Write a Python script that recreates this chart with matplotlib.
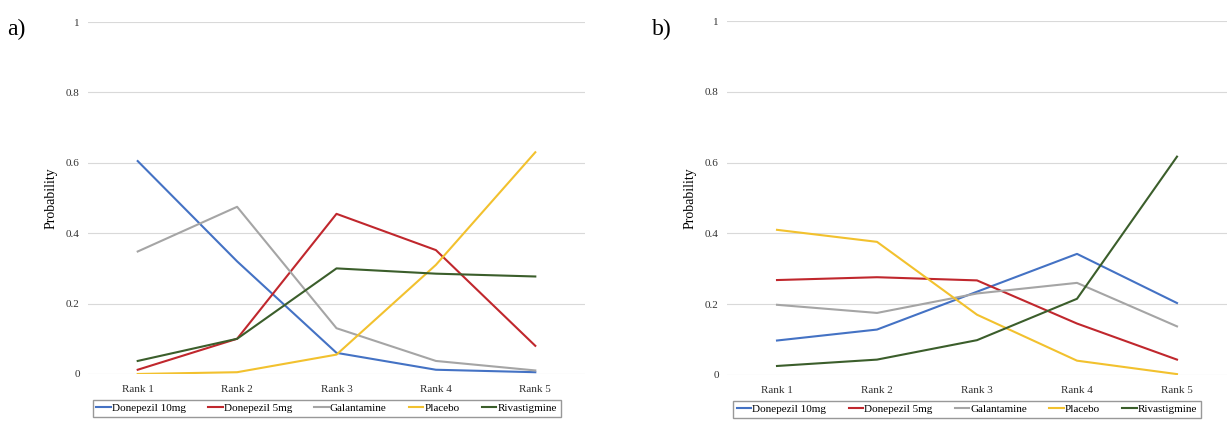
import numpy as np
import matplotlib
matplotlib.use('Agg')
import matplotlib.pyplot as plt

plt.rcParams['font.family'] = 'Liberation Serif'

# data
ranks = ['Rank 1', 'Rank 2', 'Rank 3', 'Rank 4', 'Rank 5']
drugs = ['Donepezil 10mg', 'Donepezil 5mg', 'Galantamine', 'Placebo', 'Rivastigmine']
colors = ['#4472C4', '#C0272D', '#A5A5A5', '#F2C12E', '#3B5E2B']

a_donepezil10 = [0.605, 0.32, 0.06, 0.012, 0.005]
a_donepezil5 = [0.012, 0.10, 0.455, 0.352, 0.08]
a_galantamine = [0.348, 0.475, 0.13, 0.037, 0.01]
a_placebo = [0.0, 0.005, 0.055, 0.31, 0.63]
a_rivastigmine = [0.037, 0.10, 0.30, 0.285, 0.277]

b_donepezil10 = [0.097, 0.128, 0.235, 0.342, 0.203]
b_donepezil5 = [0.268, 0.276, 0.267, 0.145, 0.043]
b_galantamine = [0.198, 0.175, 0.23, 0.26, 0.137]
b_placebo = [0.41, 0.376, 0.17, 0.04, 0.002]
b_rivastigmine = [0.025, 0.043, 0.098, 0.215, 0.617]

panel_a = [a_donepezil10, a_donepezil5, a_galantamine, a_placebo, a_rivastigmine]
panel_b = [b_donepezil10, b_donepezil5, b_galantamine, b_placebo, b_rivastigmine]

fig = plt.figure(figsize=(12.27, 4.24), dpi=100)
ax0 = fig.add_axes([88/1227, 0.118, 497/1227, 0.830])
ax1 = fig.add_axes([727/1227, 0.116, 500/1227, 0.834])

x = np.arange(len(ranks))
for ax, series, tag, lx in [(ax0, panel_a, 'a)', 0.006), (ax1, panel_b, 'b)', 0.531)]:
    for vals, name, c in zip(series, drugs, colors):
        ax.plot(x, vals, color=c, lw=1.5, label=name)
    ax.set_xlim(-0.5, 4.5)
    ax.set_ylim(0, 1)
    ax.set_yticks([0, 0.2, 0.4, 0.6, 0.8, 1])
    ax.set_yticklabels(['0', '0.2', '0.4', '0.6', '0.8', '1'])
    ax.set_xticks(x)
    ax.set_xticklabels(ranks)
    ax.tick_params(axis='y', length=0, labelsize=8, pad=6, labelcolor='#333333')
    ax.tick_params(axis='x', length=0, labelsize=8, pad=8, labelcolor='#333333')
    ax.grid(axis='y', color='#D9D9D9', lw=0.8)
    ax.set_axisbelow(True)
    for s in ax.spines.values():
        s.set_visible(False)
    ax.set_ylabel('Probability', fontsize=10, labelpad=6)
    leg = ax.legend(loc='center', bbox_to_anchor=(0.48, -0.098), ncol=5, fontsize=8,
                    frameon=True, fancybox=False, handlelength=1.3, handletextpad=0.1,
                    columnspacing=2.0, borderpad=0.35)
    leg.get_frame().set_edgecolor('#7F7F7F')
    leg.get_frame().set_linewidth(1.0)
    fig.text(lx, 0.93, tag, fontsize=17, va='center', ha='left')

fig.savefig('out.png', dpi=100)
